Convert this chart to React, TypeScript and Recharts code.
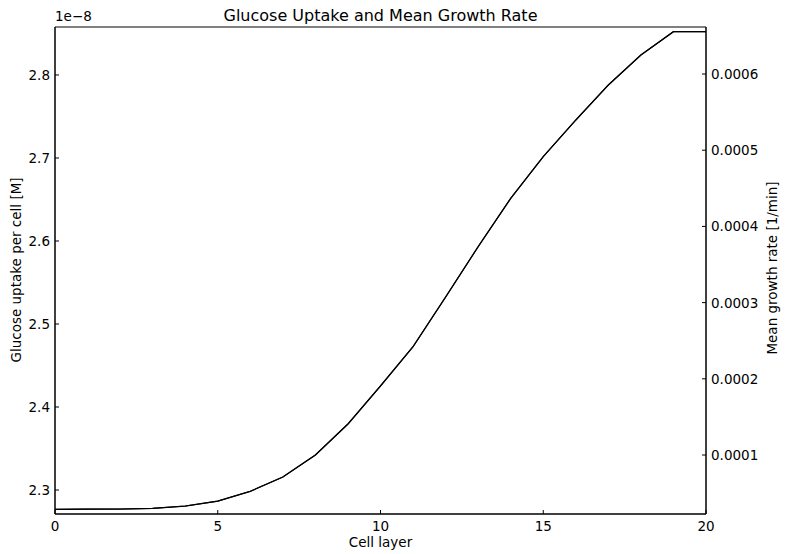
import { LineChart, Line, XAxis, YAxis, ReferenceArea } from 'recharts'

const layers = [0, 1, 2, 3, 4, 5, 6, 7, 8, 9, 10, 11, 12, 13, 14, 15, 16, 17, 18, 19, 20]

// glucose uptake per cell, in units of 1e-8 M
const glucose = [
  2.2767, 2.2769, 2.2771, 2.2778, 2.2807, 2.2867, 2.2984, 2.3157, 2.3422, 2.3795, 2.4253,
  2.4727, 2.5325, 2.5931, 2.6514, 2.7016, 2.7458, 2.788, 2.8241, 2.8522, 2.8522,
]

// mean growth rate [1/min]
const growth = [
  0.0000287, 0.0000289, 0.0000291, 0.0000299, 0.0000331, 0.0000396, 0.0000524, 0.0000711,
  0.0001, 0.0001407, 0.0001906, 0.0002421, 0.0003073, 0.0003734, 0.0004369, 0.0004915,
  0.0005396, 0.0005856, 0.0006249, 0.0006555, 0.0006555,
]

const xTicks = [0, 5, 10, 15, 20]
const leftTicks = [2.3, 2.4, 2.5, 2.6, 2.7, 2.8]
const rightTicks = [0.0001, 0.0002, 0.0003, 0.0004, 0.0005, 0.0006]

const LEFT_DOMAIN: [number, number] = [2.2711, 2.8578]
const RIGHT_DOMAIN: [number, number] = [0.0000226, 0.0006617]

const data = layers.map((layer, i) => ({ layer, glucose: glucose[i], growth: growth[i] }))

const FONT = '"DejaVu Sans", sans-serif'
const TICK_LEN = 4

const BottomTick = (props: any) => {
  const { x, y, payload } = props
  return (
    <g>
      <line x1={x} x2={x} y1={y} y2={y - TICK_LEN} stroke="#000" />
      <text x={x} y={y + 17} textAnchor="middle" fontSize={13.5} fontFamily={FONT} fill="#000">
        {payload.value}
      </text>
    </g>
  )
}

const TopTick = (props: any) => {
  const { x, y } = props
  return <line x1={x} x2={x} y1={y} y2={y + TICK_LEN} stroke="#000" />
}

const LeftTick = (props: any) => {
  const { x, y, payload } = props
  return (
    <g>
      <line x1={x} x2={x + TICK_LEN} y1={y} y2={y} stroke="#000" />
      <text x={x - 5} y={y + 5} textAnchor="end" fontSize={13.5} fontFamily={FONT} fill="#000">
        {payload.value.toFixed(1)}
      </text>
    </g>
  )
}

const RightTick = (props: any) => {
  const { x, y, payload } = props
  return (
    <g>
      <line x1={x} x2={x - TICK_LEN} y1={y} y2={y} stroke="#000" />
      <text x={x + 5} y={y + 5} textAnchor="start" fontSize={13.5} fontFamily={FONT} fill="#000">
        {payload.value.toFixed(4)}
      </text>
    </g>
  )
}

const textStyle = {
  position: 'absolute' as const,
  fontFamily: FONT,
  color: '#000',
  whiteSpace: 'nowrap' as const,
  lineHeight: 1,
}

export default function App() {
  return (
    <div style={{ position: 'absolute', left: 0, top: 0, width: 787, height: 554, background: '#fff' }}>
      <LineChart width={787} height={554} data={data} margin={{ top: 27, right: 0, bottom: 0, left: 0 }}>
        <XAxis
          dataKey="layer"
          type="number"
          domain={[0, 20]}
          ticks={xTicks}
          height={40}
          tickSize={0}
          tickMargin={0}
          tickLine={false}
          axisLine={{ stroke: '#000' }}
          tick={<BottomTick />}
          interval={0}
        />
        <XAxis
          xAxisId="top"
          orientation="top"
          dataKey="layer"
          type="number"
          domain={[0, 20]}
          ticks={xTicks}
          height={0}
          tickSize={0}
          tickMargin={0}
          tickLine={false}
          axisLine={{ stroke: '#000' }}
          tick={<TopTick />}
          interval={0}
        />
        <YAxis
          yAxisId="left"
          type="number"
          domain={LEFT_DOMAIN}
          ticks={leftTicks}
          width={55}
          tickSize={0}
          tickMargin={0}
          tickLine={false}
          axisLine={{ stroke: '#000' }}
          tick={<LeftTick />}
          interval={0}
          allowDataOverflow
        />
        <YAxis
          yAxisId="right"
          orientation="right"
          type="number"
          domain={RIGHT_DOMAIN}
          ticks={rightTicks}
          width={81}
          tickSize={0}
          tickMargin={0}
          tickLine={false}
          axisLine={{ stroke: '#000' }}
          tick={<RightTick />}
          interval={0}
          allowDataOverflow
        />
        <ReferenceArea
          yAxisId="left"
          x1={0}
          x2={20}
          y1={LEFT_DOMAIN[0]}
          y2={LEFT_DOMAIN[1]}
          fill="none"
          stroke="#000"
          strokeWidth={1}
          ifOverflow="extendDomain"
        />
        <Line
          yAxisId="left"
          dataKey="glucose"
          type="linear"
          stroke="#000"
          strokeWidth={1.2}
          dot={false}
          isAnimationActive={false}
        />
        <Line
          yAxisId="right"
          dataKey="growth"
          type="linear"
          stroke="#000"
          strokeWidth={1.2}
          dot={false}
          isAnimationActive={false}
        />
      </LineChart>
      <div style={{ ...textStyle, left: 0, width: 761, top: 8, textAlign: 'center', fontSize: 16 }}>
        Glucose Uptake and Mean Growth Rate
      </div>
      <div style={{ ...textStyle, left: 55, top: 10, fontSize: 13.5 }}>1e−8</div>
      <div style={{ ...textStyle, left: 0, width: 761, top: 536, textAlign: 'center', fontSize: 13.5 }}>
        Cell layer
      </div>
      <div
        style={{
          ...textStyle,
          left: 17,
          top: 270,
          fontSize: 13.5,
          transform: 'translate(-50%, -50%) rotate(-90deg)',
        }}
      >
        Glucose uptake per cell [M]
      </div>
      <div
        style={{
          ...textStyle,
          left: 773,
          top: 268,
          fontSize: 13.5,
          transform: 'translate(-50%, -50%) rotate(-90deg)',
        }}
      >
        Mean growth rate [1/min]
      </div>
    </div>
  )
}
